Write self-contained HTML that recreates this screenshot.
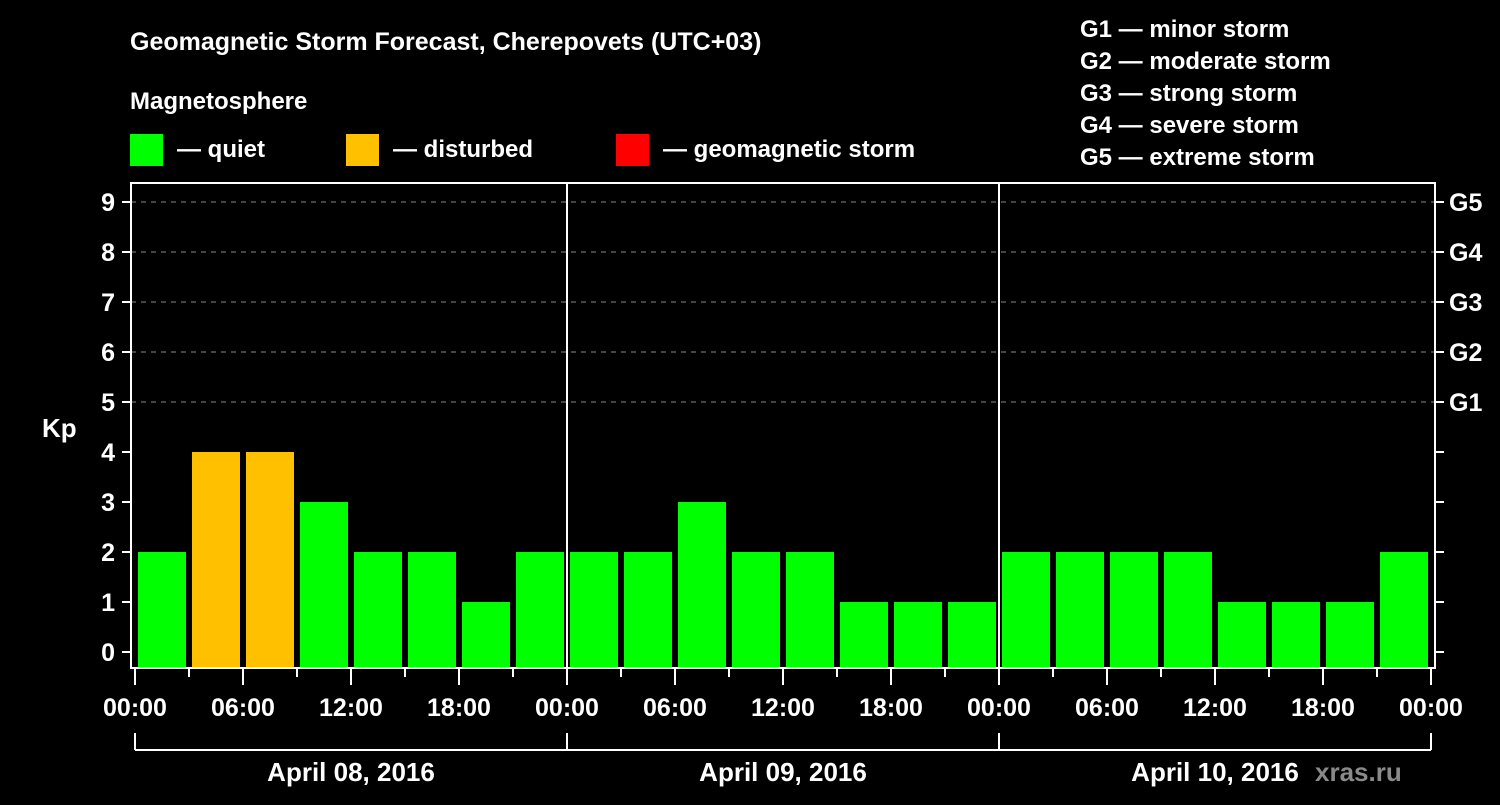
<!DOCTYPE html>
<html><head><meta charset="utf-8"><style>
body{margin:0;background:#000;}
svg text{font-family:"Liberation Sans",Arial,sans-serif;font-weight:bold;fill:#fff;}
</style></head><body>
<svg width="1500" height="800" xmlns="http://www.w3.org/2000/svg">
<rect width="1500" height="800" fill="#000"/>
<text x="130" y="50" font-size="25">Geomagnetic Storm Forecast, Cherepovets (UTC+03)</text>
<text x="130" y="109" font-size="24">Magnetosphere</text>
<g><rect x="130" y="134" width="33" height="32" fill="#00ff00"/><text x="177" y="157" font-size="24">— quiet</text></g>
<g><rect x="346" y="134" width="33" height="32" fill="#ffc000"/><text x="393" y="157" font-size="24">— disturbed</text></g>
<g><rect x="616" y="134" width="33" height="32" fill="#ff0000"/><text x="663" y="157" font-size="24">— geomagnetic storm</text></g>
<g font-size="24">
<text x="1080" y="37">G1 — minor storm</text>
<text x="1080" y="69">G2 — moderate storm</text>
<text x="1080" y="101">G3 — strong storm</text>
<text x="1080" y="133">G4 — severe storm</text>
<text x="1080" y="165">G5 — extreme storm</text>
</g>
<text x="42" y="437" font-size="26">Kp</text>
<text x="1315" y="781" font-size="26" fill="#888" style="fill:#8a8a8a">xras.ru</text>
<g id="plot"></g>
</svg>
<script>
const days=["April 08, 2016","April 09, 2016","April 10, 2016"];
const kpValues=[2,4,4,3,2,2,1,2, 2,2,3,2,2,1,1,1, 2,2,2,2,1,1,1,2];
const yTicks=[0,1,2,3,4,5,6,7,8,9];
const gLabels=["G1","G2","G3","G4","G5"];
const hourLabels=["00:00","06:00","12:00","18:00"];
const NS="http://www.w3.org/2000/svg";
const g=document.getElementById('plot');
const x0=135,dayW=432,slot=dayW/8;
const yS=v=>652-v*50;
const xS=i=>x0+i*slot;
function el(t,a,p){const e=document.createElementNS(NS,t);for(const k in a)e.setAttribute(k,a[k]);(p||g).appendChild(e);return e;}
// grid
for(let v=5;v<=9;v++){const l=el('line',{x1:131,x2:1435,y1:yS(v),y2:yS(v),stroke:'#888','stroke-dasharray':'5,5','stroke-width':1});

}
// bars
kpValues.forEach((v,i)=>{const c=v>=5?'#ff0000':(v>=4?'#ffc000':'#00ff00');
const r=el('rect',{x:xS(i)+3,y:yS(v),width:slot-6,height:667-yS(v),fill:c});

});
// frame
const f=el('rect',{x:131,y:183,width:1304,height:485,fill:'none',stroke:'#fff','stroke-width':2});


for(let d=1;d<days.length;d++){const l=el('line',{x1:x0+d*dayW,x2:x0+d*dayW,y1:183,y2:668,stroke:'#fff','stroke-width':2});

}
// y ticks
yTicks.forEach(v=>{el('line',{x1:122,x2:131,y1:yS(v),y2:yS(v),stroke:'#fff','stroke-width':2});
el('line',{x1:1435,x2:1444,y1:yS(v),y2:yS(v),stroke:'#fff','stroke-width':2});
const t=el('text',{x:115,y:yS(v)+9,'font-size':25,'text-anchor':'end'});t.textContent=v;

});
gLabels.forEach((s,i)=>{const t=el('text',{x:1449,y:yS(5+i)+9,'font-size':25});t.textContent=s;

});
// x ticks
for(let i=0;i<=kpValues.length;i++){const major=i%2==0;
el('line',{x1:xS(i),x2:xS(i),y1:668,y2:major?685:677,stroke:'#fff','stroke-width':2});
if(major){const t=el('text',{x:xS(i),y:716,'font-size':25,'text-anchor':'middle'});t.textContent=hourLabels[(i/2)%4];

}}
// day brackets
el('line',{x1:x0,x2:x0+days.length*dayW,y1:750,y2:750,stroke:'#fff','stroke-width':2});
for(let d=0;d<=days.length;d++)el('line',{x1:x0+d*dayW,x2:x0+d*dayW,y1:733,y2:750,stroke:'#fff','stroke-width':2});
days.forEach((s,d)=>{const t=el('text',{x:x0+d*dayW+dayW/2,y:781,'font-size':26,'text-anchor':'middle'});t.textContent=s;

});
</script>
</body></html>
